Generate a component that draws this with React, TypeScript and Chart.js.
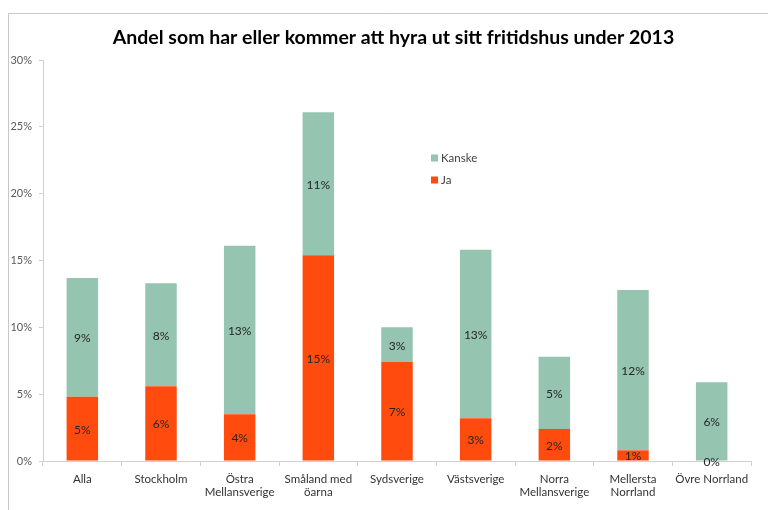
import React, { useEffect, useRef } from 'react';
import { Chart, registerables } from 'chart.js';

Chart.register(...registerables);

const chartTitle = 'Andel som har eller kommer att hyra ut sitt fritidshus under 2013';
const categories: string[][] = [
  ['Alla'],
  ['Stockholm'],
  ['Östra', 'Mellansverige'],
  ['Småland med', 'öarna'],
  ['Sydsverige'],
  ['Västsverige'],
  ['Norra', 'Mellansverige'],
  ['Mellersta', 'Norrland'],
  ['Övre Norrland'],
];
const jaValues = [4.8, 5.6, 3.5, 15.4, 7.4, 3.2, 2.4, 0.8, 0];
const kanskeValues = [8.9, 7.7, 12.6, 10.7, 2.6, 12.6, 5.4, 12.0, 5.9];
const yMin = 0;
const yMax = 30;
const yStep = 5;

const JA_COLOR = '#FF4B0E';
const KANSKE_COLOR = '#95C4B0';
const FONT = 'Lato, Carlito, Calibri, "Liberation Sans", sans-serif';

const overlayPlugin = {
  id: 'overlay',
  beforeDraw(chart: any) {
    const ctx = chart.ctx;
    ctx.save();
    ctx.fillStyle = '#ffffff';
    ctx.fillRect(0, 0, chart.width, chart.height);
    ctx.strokeStyle = '#c8c8c8';
    ctx.lineWidth = 1;
    ctx.beginPath();
    ctx.moveTo(8.5, chart.height);
    ctx.lineTo(8.5, 13.5);
    ctx.lineTo(chart.width, 13.5);
    ctx.stroke();
    // title
    ctx.fillStyle = '#000000';
    ctx.font = `bold 19.5px ${FONT}`;
    ctx.textAlign = 'center';
    ctx.textBaseline = 'middle';
    ctx.fillText(chartTitle, 393.5, 38);
    ctx.restore();
  },
  afterDatasetsDraw(chart: any) {
    const ctx = chart.ctx;
    ctx.save();
    ctx.font = `12px ${FONT}`;
    ctx.fillStyle = '#262626';
    ctx.textAlign = 'center';
    ctx.textBaseline = 'middle';
    chart.data.datasets.forEach((ds: any, i: number) => {
      const meta = chart.getDatasetMeta(i);
      meta.data.forEach((el: any, j: number) => {
        const { x, y, base } = el.getProps(['x', 'y', 'base'], true);
        const v = ds.data[j];
        ctx.fillText(Math.round(v) + '%', x, (y + base) / 2 + 1);
      });
    });
    // legend (reverse order: Kanske on top)
    const items = [...chart.data.datasets].reverse();
    ctx.font = `11.5px ${FONT}`;
    ctx.textAlign = 'left';
    ctx.fillStyle = '#404040';
    items.forEach((ds: any, k: number) => {
      const cy = 158 + k * 22;
      ctx.fillStyle = ds.backgroundColor;
      ctx.fillRect(431, cy - 3.5, 7, 7);
      ctx.fillStyle = '#404040';
      ctx.fillText(ds.label, 441, cy + 0.5);
    });
    ctx.restore();
  },
};

export default function App() {
  const ref = useRef<HTMLCanvasElement | null>(null);

  useEffect(() => {
    if (!ref.current) return;
    const chart = new Chart(ref.current, {
      type: 'bar',
      data: {
        labels: categories,
        datasets: [
          {
            label: 'Ja',
            data: jaValues,
            backgroundColor: JA_COLOR,
            barPercentage: 0.4,
            categoryPercentage: 1,
          },
          {
            label: 'Kanske',
            data: kanskeValues,
            backgroundColor: KANSKE_COLOR,
            barPercentage: 0.4,
            categoryPercentage: 1,
          },
        ],
      },
      options: {
        responsive: false,
        animation: false,
        devicePixelRatio: 1,
        layout: { padding: { top: 60, right: 17, left: 0, bottom: 0 } },
        plugins: {
          legend: { display: false },
          title: { display: false },
          tooltip: { enabled: false },
        },
        scales: {
          x: {
            stacked: true,
            grid: {
              display: true,
              drawOnChartArea: false,
              drawTicks: true,
              tickLength: 5,
              color: '#d0d0d0',
              offset: true,
            },
            border: { display: true, color: '#d0d0d0' },
            ticks: {
              color: '#333333',
              font: { family: FONT, size: 11.5 },
              padding: 6,
              maxRotation: 0,
              autoSkip: false,
            },
            afterFit: (s: any) => {
              s.height = 49;
            },
          },
          y: {
            stacked: true,
            min: yMin,
            max: yMax,
            ticks: {
              stepSize: yStep,
              callback: (v: any) => v + '%',
              color: '#595959',
              font: { family: FONT, size: 11 },
              padding: 7,
            },
            grid: {
              drawOnChartArea: false,
              tickLength: 4,
              color: '#d0d0d0',
            },
            border: { display: true, color: '#d0d0d0' },
            afterFit: (s: any) => {
              s.width = 43;
            },
          },
        },
      },
      plugins: [overlayPlugin],
    });
    return () => chart.destroy();
  }, []);

  return (
    <div style={{ position: 'fixed', left: 0, top: 0, width: 768, height: 510, background: '#fff' }}>
      <canvas ref={ref} width={768} height={510} style={{ width: 768, height: 510, display: 'block' }} />
    </div>
  );
}
